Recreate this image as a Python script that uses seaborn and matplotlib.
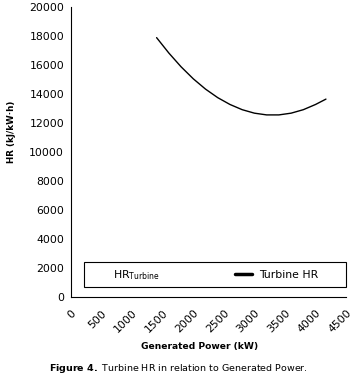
import matplotlib
matplotlib.use("Agg")
import matplotlib.pyplot as plt
import seaborn as sns
import pandas as pd
from matplotlib.lines import Line2D
from matplotlib.patches import Rectangle

# Data
power_kw = [1400, 1600, 1800, 2000, 2200, 2400, 2600, 2800, 3000, 3200, 3400, 3600, 3800, 4000, 4170]
hr_turbine = [17890, 16830, 15880, 15050, 14340, 13750, 13280, 12920, 12680, 12560, 12560, 12680, 12920, 13280, 13650]
x_ticks = [0, 500, 1000, 1500, 2000, 2500, 3000, 3500, 4000, 4500]
y_ticks = [0, 2000, 4000, 6000, 8000, 10000, 12000, 14000, 16000, 18000, 20000]

df = pd.DataFrame({"Generated Power (kW)": power_kw, "HR": hr_turbine})

sns.set_style("white")
plt.rcParams["font.family"] = ["DejaVu Sans"]
plt.rcParams["text.color"] = "black"
plt.rcParams["axes.labelcolor"] = "black"
plt.rcParams["xtick.labelcolor"] = "black"
plt.rcParams["ytick.labelcolor"] = "black"

fig = plt.figure(figsize=(3.55, 3.79), dpi=100)
ax = fig.add_axes([0.2, 0.2164, 0.775, 0.765])

sns.lineplot(data=df, x="Generated Power (kW)", y="HR", ax=ax, color="black", linewidth=1.0,
             label="Turbine HR", legend=False)

ax.set_xlim(0, 4500)
ax.set_ylim(0, 20000)
ax.set_xticks(x_ticks)
ax.set_yticks(y_ticks)
ax.set_xticklabels([str(t) for t in x_ticks], rotation=45, ha="right", rotation_mode="anchor", fontsize=7.8)
ax.set_yticklabels([str(t) for t in y_ticks], fontsize=7.8)
ax.tick_params(axis="both", direction="out", length=3, width=0.8, color="black",
               labelcolor="black", pad=2)
ax.tick_params(axis="x", pad=5)
for s in ["top", "right"]:
    ax.spines[s].set_visible(False)
for s in ["left", "bottom"]:
    ax.spines[s].set_color("black")
    ax.spines[s].set_linewidth(0.8)

ax.set_xlabel("Generated Power (kW)", fontsize=6.6, fontweight="bold", color="black")
ax.xaxis.set_label_coords(0.467, -0.155)
ax.set_ylabel("HR (kJ/kW·h)", fontsize=6.3, fontweight="bold", color="black")
ax.yaxis.set_label_coords(-0.2, 0.57)

# legend box
ax.add_patch(Rectangle((0.047, 0.034), 0.953, 0.087, transform=ax.transAxes,
                       fill=False, edgecolor="black", linewidth=0.8, clip_on=False))
ax.text(0.153, 0.077, r"HR$_{\mathrm{Turbine}}$", transform=ax.transAxes,
        fontsize=7.8, va="center", ha="left", color="black")
handles = [Line2D([], [], color="black", linewidth=2.5)]
leg = ax.legend(handles, ["Turbine HR"], loc="center left",
                bbox_to_anchor=(0.58, 0.077), frameon=False, fontsize=7.8,
                handlelength=1.6, handletextpad=0.6, borderaxespad=0)
for t in leg.get_texts():
    t.set_color("black")

fig.text(0.138, 0.02, r"$\bf{Figure\ 4.}$ Turbine HR in relation to Generated Power.",
         fontsize=6.8, ha="left", color="black")

fig.savefig("out.png", dpi=100, facecolor="white")
